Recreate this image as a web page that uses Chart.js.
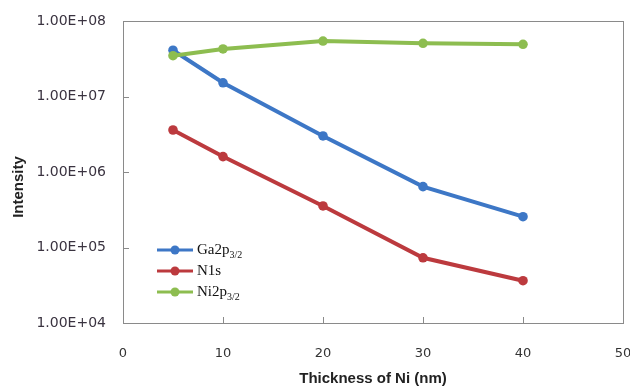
<!DOCTYPE html>
<html>
<head>
<meta charset="utf-8">
<script src="https://cdn.jsdelivr.net/npm/chart.js@4/dist/chart.umd.min.js"></script>
<style>
html,body{margin:0;padding:0;background:#fff;}
#wrap{width:630px;height:388px;position:relative;}
</style>
</head>
<body>
<div id="wrap"><canvas id="c" width="630" height="388"></canvas></div>
<script>
// ---- data ----
const thickness = [5, 10, 20, 30, 40];
const ga2p = [4.1e7, 1.52e7, 3.0e6, 6.4e5, 2.56e5];
const n1s = [3.6e6, 1.6e6, 3.55e5, 7.3e4, 3.63e4];
const ni2p = [3.47e7, 4.26e7, 5.43e7, 5.07e7, 4.91e7];
const seriesNames = ['Ga2p', 'N1s', 'Ni2p'];
const seriesSubs = ['3/2', '', '3/2'];
const yTickValues = [1e4, 1e5, 1e6, 1e7, 1e8];
const xTickValues = [0, 10, 20, 30, 40, 50];
const xTitle = 'Thickness of Ni (nm)';
const yTitle = 'Intensity';

const colors = ['#3d77c6', '#bc3a3e', '#8dbd50'];
const seriesData = [ga2p, n1s, ni2p];

function fmtE(v) {
  const e = Math.round(Math.log10(v));
  const m = v / Math.pow(10, e);
  return m.toFixed(2) + 'E' + (e >= 0 ? '+' : '-') + String(Math.abs(e)).padStart(2, '0');
}

function zeroPad(s) {
  s.paddingLeft = 0; s.paddingRight = 0; s.paddingTop = 0; s.paddingBottom = 0;
}

const framePlugin = {
  id: 'frame',
  beforeDatasetsDraw(chart) {
    const {ctx, chartArea: a, scales} = chart;
    ctx.save();
    ctx.strokeStyle = '#8a8a8a';
    ctx.lineWidth = 1;
    ctx.strokeRect(Math.round(a.left) + 0.5, Math.round(a.top) + 0.5, Math.round(a.right - a.left), Math.round(a.bottom - a.top));
    ctx.beginPath();
    yTickValues.forEach(v => {
      const y = Math.round(scales.y.getPixelForValue(v)) + 0.5;
      ctx.moveTo(a.left, y); ctx.lineTo(a.left + 6, y);
    });
    xTickValues.forEach(v => {
      const x = Math.round(scales.x.getPixelForValue(v)) + 0.5;
      ctx.moveTo(x, a.bottom); ctx.lineTo(x, a.bottom - 6);
    });
    ctx.stroke();
    ctx.restore();
  },
  afterDraw(chart) {
    const {ctx} = chart;
    ctx.save();
    // y title
    ctx.fillStyle = '#222';
    ctx.font = 'bold 15px "Liberation Sans", Arial, sans-serif';
    ctx.translate(19, 187);
    ctx.rotate(-Math.PI / 2);
    ctx.textAlign = 'center';
    ctx.textBaseline = 'middle';
    ctx.fillText(yTitle, 0, 0);
    ctx.restore();

    // legend
    ctx.save();
    const rows = [250, 271, 292];
    chart.data.datasets.forEach((ds, i) => {
      const y = rows[i];
      ctx.strokeStyle = ds.borderColor;
      ctx.lineWidth = 3;
      ctx.beginPath();
      ctx.moveTo(157, y); ctx.lineTo(193, y);
      ctx.stroke();
      ctx.fillStyle = ds.borderColor;
      ctx.beginPath();
      ctx.arc(175, y, 4.5, 0, Math.PI * 2);
      ctx.fill();
      ctx.fillStyle = '#111';
      ctx.font = '15px "Liberation Serif", "Times New Roman", serif';
      ctx.textAlign = 'left';
      ctx.textBaseline = 'middle';
      ctx.fillText(seriesNames[i], 197, y);
      const w = ctx.measureText(seriesNames[i]).width;
      if (seriesSubs[i]) {
        ctx.font = '10px "Liberation Serif", "Times New Roman", serif';
        ctx.fillText(seriesSubs[i], 197 + w, y + 5);
      }
    });
    ctx.restore();
  }
};

new Chart(document.getElementById('c'), {
  type: 'line',
  data: {
    datasets: seriesData.map((arr, i) => ({
      label: seriesNames[i],
      data: thickness.map((x, j) => ({x: x, y: arr[j]})),
      borderColor: colors[i],
      backgroundColor: colors[i],
      borderWidth: 4,
      pointRadius: 4.8,
      pointHoverRadius: 4.8,
      pointBorderWidth: 0,
      tension: 0,
      fill: false,
      order: 3 - i
    }))
  },
  options: {
    responsive: false,
    animation: false,
    events: [],
    layout: {padding: {top: 21, right: 7, left: 0, bottom: 0}},
    plugins: {legend: {display: false}, tooltip: {enabled: false}},
    scales: {
      x: {
        type: 'linear',
        min: 0, max: 50,
        afterBuildTicks: s => { s.ticks = xTickValues.map(v => ({value: v})); },
        afterFit: s => { s.height = 65; zeroPad(s); },
        grid: {display: false, drawTicks: false},
        border: {display: false},
        ticks: {
          padding: 23,
          color: '#333',
          font: {family: '"DejaVu Sans", sans-serif', size: 13},
          maxRotation: 0
        },
        title: {
          display: true,
          text: xTitle,
          color: '#222',
          font: {family: '"Liberation Sans", Arial, sans-serif', size: 15, weight: 'bold'},
          padding: {top: 3, bottom: 0}
        }
      },
      y: {
        type: 'logarithmic',
        min: 1e4, max: 1e8,
        afterBuildTicks: s => { s.ticks = yTickValues.map(v => ({value: v})); },
        afterFit: s => { s.width = 123; zeroPad(s); },
        grid: {display: false, drawTicks: false},
        border: {display: false},
        ticks: {
          padding: 17,
          color: '#3a3340',
          font: {family: '"DejaVu Sans", sans-serif', size: 14},
          callback: v => fmtE(v)
        }
      }
    }
  },
  plugins: [framePlugin]
});
</script>
</body>
</html>
